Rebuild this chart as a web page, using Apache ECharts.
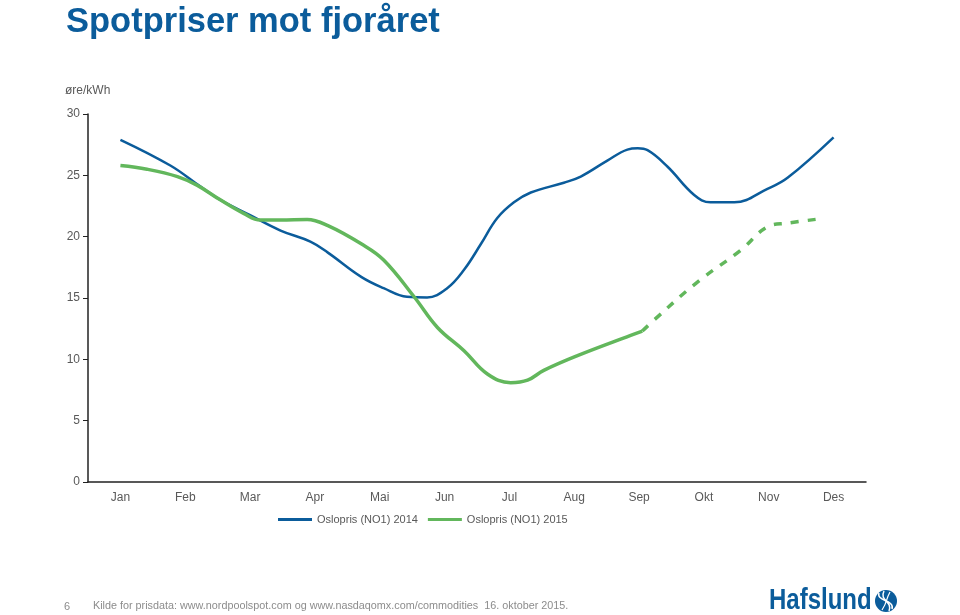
<!DOCTYPE html>
<html>
<head>
<meta charset="utf-8">
<script src="https://cdn.jsdelivr.net/npm/echarts@6/dist/echarts.min.js"></script>
<style>
html,body{margin:0;padding:0;background:#fff;}
#c{width:960px;height:615px;}
</style>
</head>
<body>
<div id="c"></div>
<script>
var months = ['Jan','Feb','Mar','Apr','Mai','Jun','Jul','Aug','Sep','Okt','Nov','Des'];
var yTicks = [0,5,10,15,20,25,30];

// 2014 (month index position, øre/kWh)
var pos2014 = [0, 0.77, 1.23, 1.54, 2.0, 2.47, 2.93, 3.2, 3.72, 4.06, 4.42, 4.73, 5.04, 5.30, 5.56, 5.81, 6.07, 6.33, 6.84, 7.1, 7.51, 7.82, 7.98, 8.13, 8.44, 8.85, 9.1, 9.47, 9.98, 10.29, 11.0];
var val2014 = [27.9, 25.8, 24.1, 23.0, 21.75, 20.5, 19.6, 18.7, 16.7, 15.8, 15.1, 15.05, 15.8, 17.3, 19.4, 21.5, 22.8, 23.6, 24.4, 24.9, 26.2, 27.1, 27.2, 27.05, 25.7, 23.4, 22.8, 22.8, 23.9, 24.8, 28.1];

// 2015 actual
var pos2015 = [0, 0.41, 0.88, 1.18, 1.54, 1.9, 2.16, 2.47, 2.88, 3.2, 3.72, 4.06, 4.53, 4.89, 5.30, 5.66, 6.02, 6.28, 6.53, 7.05, 7.87, 8.05];
var val2015 = [25.8, 25.5, 24.9, 24.2, 23.0, 21.9, 21.35, 21.35, 21.4, 20.9, 19.4, 18.1, 15.1, 12.6, 10.7, 8.8, 8.1, 8.3, 9.1, 10.3, 11.95, 12.3];

// 2015 forward (dashed)
var posFwd = [8.05, 8.23, 8.9, 9.57, 9.98, 10.29, 10.86];
var valFwd = [12.3, 13.2, 16.3, 18.9, 20.8, 21.1, 21.5];

function zip(a, b){ return a.map(function(x,i){ return [x, b[i]]; }); }

var blue = '#0b5c9b';
var green = '#62b75c';
var labelColor = '#595959';
var ff = 'Liberation Sans, Arial, sans-serif';

var chart = echarts.init(document.getElementById('c'), null, {renderer:'canvas'});
chart.setOption({
  animation: false,
  backgroundColor: '#ffffff',
  title: {
    text: 'Spotpriser mot fjoråret',
    left: 61, top: 0,
    textStyle: {fontFamily: ff, fontSize: 34.5, fontWeight: 'bold', color: blue}
  },
  grid: {left: 88, right: 94, top: 114, bottom: 133},
  legend: {
    data: ['Oslopris (NO1) 2014', 'Oslopris (NO1) 2015'],
    top: 509, left: 273,
    icon: 'rect', itemWidth: 34, itemHeight: 3, itemGap: 10,
    textStyle: {fontFamily: ff, fontSize: 11, color: labelColor}
  },
  xAxis: [{
    type: 'category', data: months, boundaryGap: true,
    axisLine: {show: true, onZero: false, lineStyle: {color: '#222', width: 1.5}},
    axisTick: {show: false},
    axisLabel: {color: labelColor, fontSize: 12, margin: 10, fontFamily: ff},
    splitLine: {show: false}
  },{
    type: 'value', min: -0.5, max: 11.5, show: false
  }],
  yAxis: {
    type: 'value', min: yTicks[0], max: yTicks[yTicks.length-1], interval: 5,
    name: 'øre/kWh', nameLocation: 'end', nameGap: 17,
    nameTextStyle: {color: labelColor, fontSize: 12, align: 'left', padding: [0,0,0,-23], fontFamily: ff},
    axisLine: {show: true, onZero: false, lineStyle: {color: '#222', width: 1.5}},
    axisTick: {show: true, length: 5, lineStyle: {color: '#222'}},
    axisLabel: {color: labelColor, fontSize: 12, margin: 8, fontFamily: ff},
    splitLine: {show: false}
  },
  series: [{
    name: 'Oslopris (NO1) 2014', type: 'line', xAxisIndex: 1,
    data: zip(pos2014, val2014), smooth: 0.4, showSymbol: false,
    lineStyle: {color: blue, width: 2.5}, itemStyle: {color: blue}
  },{
    name: 'Oslopris (NO1) 2015', type: 'line', xAxisIndex: 1,
    data: zip(pos2015, val2015), smooth: 0.4, showSymbol: false,
    lineStyle: {color: green, width: 3.5}, itemStyle: {color: green}
  },{
    name: 'forward', type: 'line', xAxisIndex: 1,
    data: zip(posFwd, valFwd), smooth: 0.4, showSymbol: false,
    lineStyle: {color: green, width: 3.5, type: [8, 9]}, itemStyle: {color: green}
  }],
  graphic: [
    {type: 'text', left: 64, top: 601, style: {text: '6', fill: '#8c8c8c', fontSize: 11, fontFamily: ff}},
    {type: 'text', left: 93, top: 601, style: {text: 'Kilde for prisdata: www.nordpoolspot.com og www.nasdaqomx.com/commodities  16. oktober 2015.', fill: '#8c8c8c', fontSize: 10.8, fontFamily: ff}},
    {type: 'text', x: 769, y: 601, scaleX: 0.8, style: {text: 'Hafslund', fill: blue, fontSize: 30, fontWeight: 'bold', fontFamily: ff, textVerticalAlign: 'middle', verticalAlign: 'middle'}},
    {type: 'circle', shape: {cx: 886, cy: 601, r: 11}, style: {fill: blue}},
    {type: 'bezierCurve', shape: {x1: 879, y1: 593, x2: 892, y2: 609, cpx1: 876, cpy1: 601, cpx2: 895, cpy2: 600}, style: {stroke: '#fff', lineWidth: 1.5, fill: null}},
    {type: 'bezierCurve', shape: {x1: 884, y1: 591, x2: 889, y2: 611, cpx1: 879, cpy1: 601, cpx2: 893, cpy2: 601}, style: {stroke: '#fff', lineWidth: 1.5, fill: null}},
    {type: 'bezierCurve', shape: {x1: 890, y1: 592, x2: 882, y2: 610, cpx1: 885, cpy1: 601, cpx2: 888, cpy2: 601}, style: {stroke: '#fff', lineWidth: 1.2, fill: null}}
  ]
});
</script>
</body>
</html>
